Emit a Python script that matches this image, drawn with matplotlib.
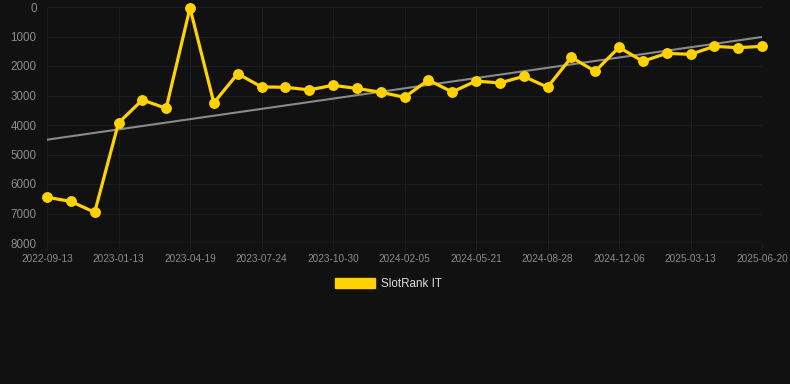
import numpy as np
import matplotlib
matplotlib.use("Agg")
import matplotlib.pyplot as plt
from matplotlib.patches import Patch

plt.rcParams['font.family'] = ['Liberation Sans', 'DejaVu Sans']

dates = ["2022-09-13", "2022-10-24", "2022-12-04", "2023-01-13", "2023-02-14",
         "2023-03-18", "2023-04-19", "2023-05-21", "2023-06-22", "2023-07-24",
         "2023-08-26", "2023-09-28", "2023-10-30", "2023-12-01", "2024-01-03",
         "2024-02-05", "2024-03-11", "2024-04-16", "2024-05-21", "2024-06-23",
         "2024-07-26", "2024-08-28", "2024-09-30", "2024-11-02", "2024-12-06",
         "2025-01-07", "2025-02-09", "2025-03-13", "2025-04-15", "2025-05-18",
         "2025-06-20"]
rank = [6450, 6590, 6960, 3930, 3150, 3435, 30, 3250, 2260, 2710,
        2720, 2810, 2655, 2760, 2890, 3060, 2475, 2880, 2510, 2575,
        2350, 2720, 1705, 2180, 1367, 1840, 1570, 1605, 1333, 1380,
        1333]
series_name = "SlotRank IT"

bg = "#111111"
yellow = "#FFD200"
grid_c = "#1d1d1d"

fig = plt.figure(figsize=(7.9, 3.84), dpi=100, facecolor=bg)
ax = fig.add_axes([47/790, 1-243/384, (762-47)/790, (243-7)/384])
ax.set_facecolor(bg)

x = np.arange(len(dates))
# trend line (least squares)
k, b = np.polyfit(x, rank, 1)
ax.plot([x[0], x[-1]], [k*x[0]+b, k*x[-1]+b], color="#8a8a8a", lw=1.5, zorder=2)

ax.plot(x, rank, color=yellow, lw=2.3, marker="o", markersize=6.8,
        markeredgecolor=yellow, zorder=3, clip_on=False)

ax.set_xlim(x[0], x[-1])
ax.set_ylim(8000, 0)
ax.set_yticks(range(0, 8001, 1000))
ax.set_xticks(x[::3])
ax.set_xticklabels(dates[::3])

ax.grid(True, color=grid_c, lw=0.8)
ax.set_axisbelow(True)
for s in ax.spines.values():
    s.set_visible(False)
ax.axhline(8000, color="#2c2c2c", lw=1, zorder=1)
ax.tick_params(axis="y", length=0, pad=7.5, labelsize=8.4, labelcolor="#8c8c8c")
ax.tick_params(axis="x", length=5, color=grid_c, pad=3, labelsize=7.2, labelcolor="#8c8c8c")

handle = Patch(facecolor=yellow, edgecolor=yellow)
fig.legend([handle], [series_name], loc="center", bbox_to_anchor=(0.492, 1-284/384),
           frameon=False, fontsize=8.4, labelcolor="#dddddd",
           handlelength=3.4, handleheight=1.0, handletextpad=0.5)

fig.savefig("out.png", dpi=100, facecolor=bg)
